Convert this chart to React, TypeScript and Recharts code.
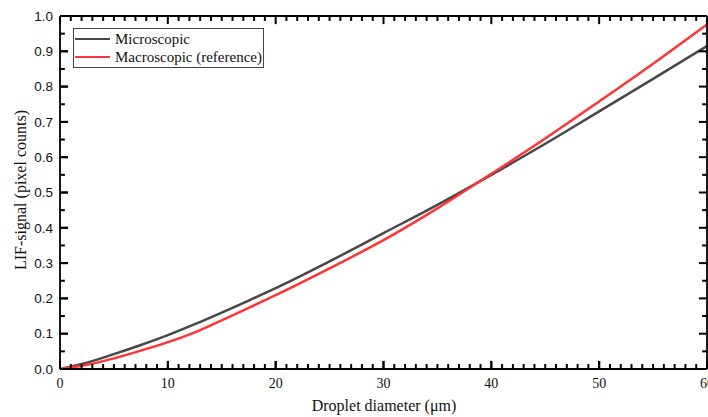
import { LineChart, Line, XAxis, YAxis, ReferenceLine } from 'recharts'

const diameters = [0, 2.5, 5, 7.5, 10, 12.5, 15, 17.5, 20, 25, 30, 35, 40, 45, 50, 55, 60]
const microscopic = [0, 0.018, 0.042, 0.068, 0.096, 0.127, 0.16, 0.194, 0.229, 0.305, 0.385, 0.465, 0.55, 0.638, 0.73, 0.822, 0.915]
const macroscopic = [0, 0.012, 0.03, 0.052, 0.076, 0.104, 0.138, 0.173, 0.209, 0.285, 0.365, 0.455, 0.553, 0.653, 0.758, 0.865, 0.976]

const xMajorTicks = [0, 10, 20, 30, 40, 50, 60]
const xMinorTicks = [
  1, 2, 3, 4, 5, 6, 7, 8, 9, 11, 12, 13, 14, 15, 16, 17, 18, 19,
  21, 22, 23, 24, 25, 26, 27, 28, 29, 31, 32, 33, 34, 35, 36, 37, 38, 39,
  41, 42, 43, 44, 45, 46, 47, 48, 49, 51, 52, 53, 54, 55, 56, 57, 58, 59,
]
const yMajorTicks = [0, 0.1, 0.2, 0.3, 0.4, 0.5, 0.6, 0.7, 0.8, 0.9, 1.0]
const yMinorTicks = [0.05, 0.15, 0.25, 0.35, 0.45, 0.55, 0.65, 0.75, 0.85, 0.95]

const SERIES = [
  { key: 'micro', name: 'Microscopic', color: '#474747' },
  { key: 'macro', name: 'Macroscopic (reference)', color: '#ff3535' },
]

const SERIF = '"Liberation Serif", "Times New Roman", serif'
const SANS = '"Liberation Sans", Arial, sans-serif'

const X_MIN = 0
const X_MAX = 60
const Y_MIN = 0
const Y_MAX = 1

// tick mark lengths, in axis units (about 8px / 5px on this plot)
const X_TICK_MAJOR = 0.023
const X_TICK_MINOR = 0.014
const Y_TICK_MAJOR = 0.75
const Y_TICK_MINOR = 0.45

const data = diameters.map((d, i) => ({ d, micro: microscopic[i], macro: macroscopic[i] }))

const tickColor = '#000'
const tickWidth = 2

// inward ticks on all four sides, Origin style
function xTickMarks(ticks: number[], len: number, prefix: string) {
  return ticks.flatMap((t) => [
    <ReferenceLine key={`${prefix}b${t}`} segment={[{ x: t, y: Y_MIN }, { x: t, y: Y_MIN + len }]}
      stroke={tickColor} strokeWidth={tickWidth} ifOverflow="visible" />,
    <ReferenceLine key={`${prefix}t${t}`} segment={[{ x: t, y: Y_MAX }, { x: t, y: Y_MAX - len }]}
      stroke={tickColor} strokeWidth={tickWidth} ifOverflow="visible" />,
  ])
}

function yTickMarks(ticks: number[], len: number, prefix: string) {
  return ticks.flatMap((t) => [
    <ReferenceLine key={`${prefix}l${t}`} segment={[{ x: X_MIN, y: t }, { x: X_MIN + len, y: t }]}
      stroke={tickColor} strokeWidth={tickWidth} ifOverflow="visible" />,
    <ReferenceLine key={`${prefix}r${t}`} segment={[{ x: X_MAX, y: t }, { x: X_MAX - len, y: t }]}
      stroke={tickColor} strokeWidth={tickWidth} ifOverflow="visible" />,
  ])
}

export default function App() {
  return (
    <div style={{ position: 'absolute', left: 0, top: 0, width: 708, height: 417, background: '#fff' }}>
      <LineChart width={708} height={417} data={data} margin={{ top: 16, right: 1, bottom: 0, left: 0 }}>
        <XAxis
          dataKey="d"
          type="number"
          domain={[X_MIN, X_MAX]}
          interval={0}
          height={48}
          ticks={xMajorTicks}
          tickSize={-8}
          tickMargin={17}
          tickLine={{ stroke: '#000', strokeWidth: 2 }}
          axisLine={{ stroke: '#000', strokeWidth: 1.8 }}
          tick={{ fontFamily: SERIF, fontSize: 14, fill: '#111' }}
        />
        <YAxis
          type="number"
          domain={[Y_MIN, Y_MAX]}
          interval={0}
          width={60}
          ticks={yMajorTicks}
          tickSize={-8}
          tickMargin={15}
          tickLine={{ stroke: '#000', strokeWidth: 2 }}
          axisLine={{ stroke: '#000', strokeWidth: 1.8 }}
          tickFormatter={(v: number) => v.toFixed(1)}
          tick={{ fontFamily: SANS, fontSize: 13.5, fill: '#111' }}
        />
        {SERIES.map((s) => (
          <Line
            key={s.key}
            type="monotone"
            dataKey={s.key}
            name={s.name}
            stroke={s.color}
            strokeWidth={2.5}
            dot={false}
            activeDot={false}
            isAnimationActive={false}
          />
        ))}
        <ReferenceLine y={Y_MAX} stroke="#000" strokeWidth={1.8} ifOverflow="visible" />
        <ReferenceLine x={X_MAX} stroke="#000" strokeWidth={1.8} ifOverflow="visible" />
        {xTickMarks(xMajorTicks, X_TICK_MAJOR, 'M')}
        {xTickMarks(xMinorTicks, X_TICK_MINOR, 'm')}
        {yTickMarks(yMajorTicks, Y_TICK_MAJOR, 'M')}
        {yTickMarks(yMinorTicks, Y_TICK_MINOR, 'm')}
        <text x={22} y={190} transform="rotate(-90 22 190)" textAnchor="middle" dominantBaseline="middle"
          fontFamily={SERIF} fontSize={16} fill="#111">
          LIF-signal (pixel counts)
        </text>
        <text x={384} y={411} textAnchor="middle" fontFamily={SERIF} fontSize={16} fill="#111">
          Droplet diameter (μm)
        </text>
      </LineChart>
      <div
        style={{
          position: 'absolute',
          left: 73,
          top: 28,
          width: 191,
          height: 40,
          border: '1px solid #444',
          boxSizing: 'border-box',
          background: '#fff',
          fontFamily: SERIF,
          fontSize: 15,
          color: '#111',
          padding: '1px 0 0 1px',
        }}
      >
        {SERIES.map((s) => (
          <div key={s.key} style={{ display: 'flex', alignItems: 'center', height: 18 }}>
            <span style={{ display: 'inline-block', width: 35, height: 2.5, background: s.color, marginRight: 5 }} />
            <span>{s.name}</span>
          </div>
        ))}
      </div>
    </div>
  )
}
